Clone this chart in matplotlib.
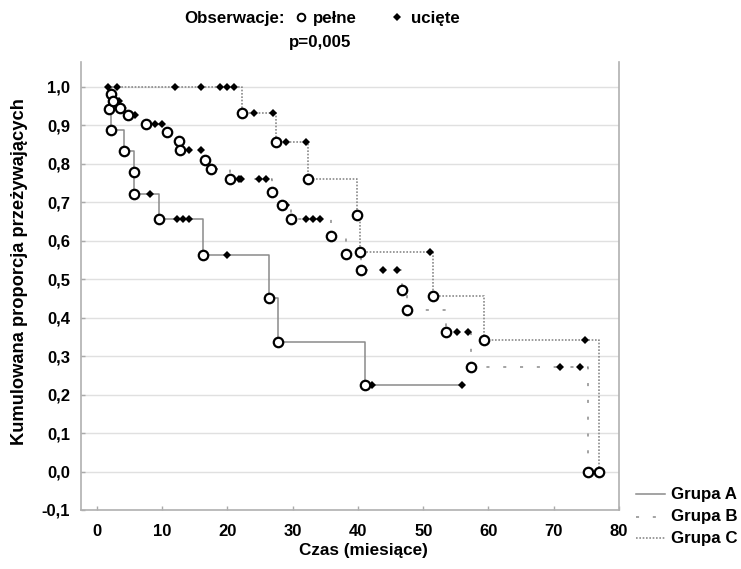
import matplotlib
matplotlib.use("Agg")
import matplotlib.pyplot as plt
from matplotlib.lines import Line2D

plt.rcParams["font.family"] = ["Liberation Sans", "DejaVu Sans"]
plt.rcParams["font.weight"] = "bold"

# ---- Kaplan-Meier data: event (death) times with survival after the event,
# ---- and censored times with the survival level they sit on.
a_death_t = [1.8, 2.1, 4.2, 5.6, 5.6, 9.5, 16.3, 26.3, 27.7, 41.0]
a_death_s = [0.944, 0.889, 0.833, 0.778, 0.722, 0.657, 0.563, 0.450, 0.338, 0.225]
a_cens_t = [8.1, 12.3, 13.2, 14.1, 20.0, 42.1, 56.0]
a_cens_s = [0.722, 0.657, 0.657, 0.657, 0.563, 0.225, 0.225]

b_death_t = [2.1, 2.5, 3.5, 4.7, 7.5, 10.7, 12.5, 12.7, 16.5, 17.4, 20.4,
             26.8, 28.4, 29.8, 35.8, 38.1, 40.5, 46.8, 47.5, 53.5, 57.3, 75.3]
b_death_s = [0.982, 0.964, 0.946, 0.927, 0.904, 0.883, 0.860, 0.836, 0.811, 0.788, 0.760,
             0.726, 0.693, 0.657, 0.613, 0.566, 0.523, 0.471, 0.420, 0.364, 0.273, 0.0]
b_cens_t = [3.3, 5.9, 8.9, 10.0, 14.1, 15.9, 17.9, 21.7, 22.1, 24.9, 25.9,
            28.9, 32.0, 33.1, 34.2, 43.8, 46.0, 55.1, 56.9, 70.9, 74.0]
b_cens_s = [0.964, 0.927, 0.904, 0.904, 0.836, 0.836, 0.788, 0.760, 0.760, 0.760, 0.760,
            0.693, 0.657, 0.657, 0.657, 0.523, 0.523, 0.364, 0.364, 0.273, 0.273]

c_death_t = [22.3, 27.4, 32.3, 39.8, 40.3, 51.5, 59.3, 76.9]
c_death_s = [0.933, 0.856, 0.761, 0.666, 0.571, 0.457, 0.343, 0.0]
c_cens_t = [1.7, 3.1, 12.0, 15.9, 18.9, 20.0, 21.0, 24.0, 26.9, 28.9, 32.0, 51.1, 74.8]
c_cens_s = [1.0, 1.0, 1.0, 1.0, 1.0, 1.0, 1.0, 0.933, 0.933, 0.856, 0.856, 0.571, 0.343]

group_labels = ["Grupa A", "Grupa B", "Grupa C"]
x_ticks = [0, 10, 20, 30, 40, 50, 60, 70, 80]
y_ticks = [-0.1, 0.0, 0.1, 0.2, 0.3, 0.4, 0.5, 0.6, 0.7, 0.8, 0.9, 1.0]
y_tick_labels = ["-0,1", "0,0", "0,1", "0,2", "0,3", "0,4", "0,5",
                 "0,6", "0,7", "0,8", "0,9", "1,0"]

W, H = 741, 569
fig = plt.figure(figsize=(W / 100, H / 100), dpi=100)
fig.patch.set_facecolor("white")


def fx(px):
    return px / W


def fy(py):
    return 1 - py / H


ax = fig.add_axes([fx(81), fy(510), fx(619) - fx(81), fy(62) - fy(510)])
ax.set_xlim(-2.45, 80)
ax.set_ylim(-0.1, 1.065)

line_col = "#8a8a8a"
styles = [
    dict(linestyle="-", linewidth=1.1),
    dict(linestyle=(0, (2, 9)), linewidth=1.1),
    dict(linestyle=(0, (1, 1)), linewidth=1.2),
]

groups = [
    (a_death_t, a_death_s, a_cens_t, a_cens_s),
    (b_death_t, b_death_s, b_cens_t, b_cens_s),
    (c_death_t, c_death_s, c_cens_t, c_cens_s),
]

for (dt, ds, ct, cs), st in zip(groups, styles):
    t0 = min(dt[0], ct[0])
    t_end = max(dt[-1], ct[-1])
    xs = [t0] + list(dt) + [t_end]
    ys = [1.0] + list(ds) + [ds[-1]]
    ax.step(xs, ys, where="post", color=line_col, zorder=2, **st)

for dt, ds, ct, cs in groups:
    ax.plot(ct, cs, linestyle="none", marker="D", markersize=4.2,
            color="black", markeredgewidth=0, zorder=3)
    ax.plot(dt, ds, linestyle="none", marker="o", markersize=6.8,
            markerfacecolor="white", markeredgecolor="black",
            markeredgewidth=1.6, zorder=4)

# grid and axes styling
ax.set_yticks(y_ticks)
ax.set_xticks(x_ticks)
ax.yaxis.grid(True, color="#e0e0e0", linewidth=1.0, zorder=0)
ax.set_axisbelow(True)
ax.set_yticklabels(y_tick_labels, fontsize=12, fontweight="bold")
ax.set_xticklabels([str(v) for v in x_ticks], fontsize=12, fontweight="bold")
ax.tick_params(axis="both", direction="in", length=3, color="#aaaaaa",
               width=1.0, pad=8)
ax.tick_params(axis="x", pad=10)
for side in ["left", "bottom", "right"]:
    ax.spines[side].set_color("#b0b0b0")
    ax.spines[side].set_linewidth(1.2)
ax.spines["top"].set_visible(False)

# axis titles
fig.text(fx(363), fy(551), "Czas (miesiące)", ha="center", va="center",
         fontsize=12.3, fontweight="bold")
fig.text(fx(20), fy(272), "Kumulowana proporcja przeżywających", ha="center",
         va="center", rotation=90, fontsize=13.2, fontweight="bold")

# top header with observation markers
fig.text(fx(184), fy(18), "Obserwacje:", ha="left", va="center",
         fontsize=12.2, fontweight="bold")
fig.add_artist(Line2D([fx(301)], [fy(17)], transform=fig.transFigure,
                      marker="o", markersize=5.5, markerfacecolor="white",
                      markeredgecolor="black", markeredgewidth=1.4,
                      linestyle="none"))
fig.text(fx(313), fy(18), "pełne", ha="left", va="center",
         fontsize=12.2, fontweight="bold")
fig.add_artist(Line2D([fx(397)], [fy(17)], transform=fig.transFigure,
                      marker="D", markersize=4, color="black",
                      markeredgewidth=0, linestyle="none"))
fig.text(fx(411), fy(18), "ucięte", ha="left", va="center",
         fontsize=12.2, fontweight="bold")
fig.text(fx(289), fy(43), "p=0,005", ha="left", va="center",
         fontsize=12.2, fontweight="bold")

# group legend
for i, (lab, st) in enumerate(zip(group_labels, styles)):
    yy = [494, 517, 538][i]
    fig.add_artist(Line2D([fx(636), fx(665)], [fy(yy), fy(yy)],
                          transform=fig.transFigure, color=line_col, **st))
    fig.text(fx(671), fy(yy), lab, ha="left", va="center",
             fontsize=12.2, fontweight="bold")

fig.savefig("out.png", dpi=100, facecolor="white")
